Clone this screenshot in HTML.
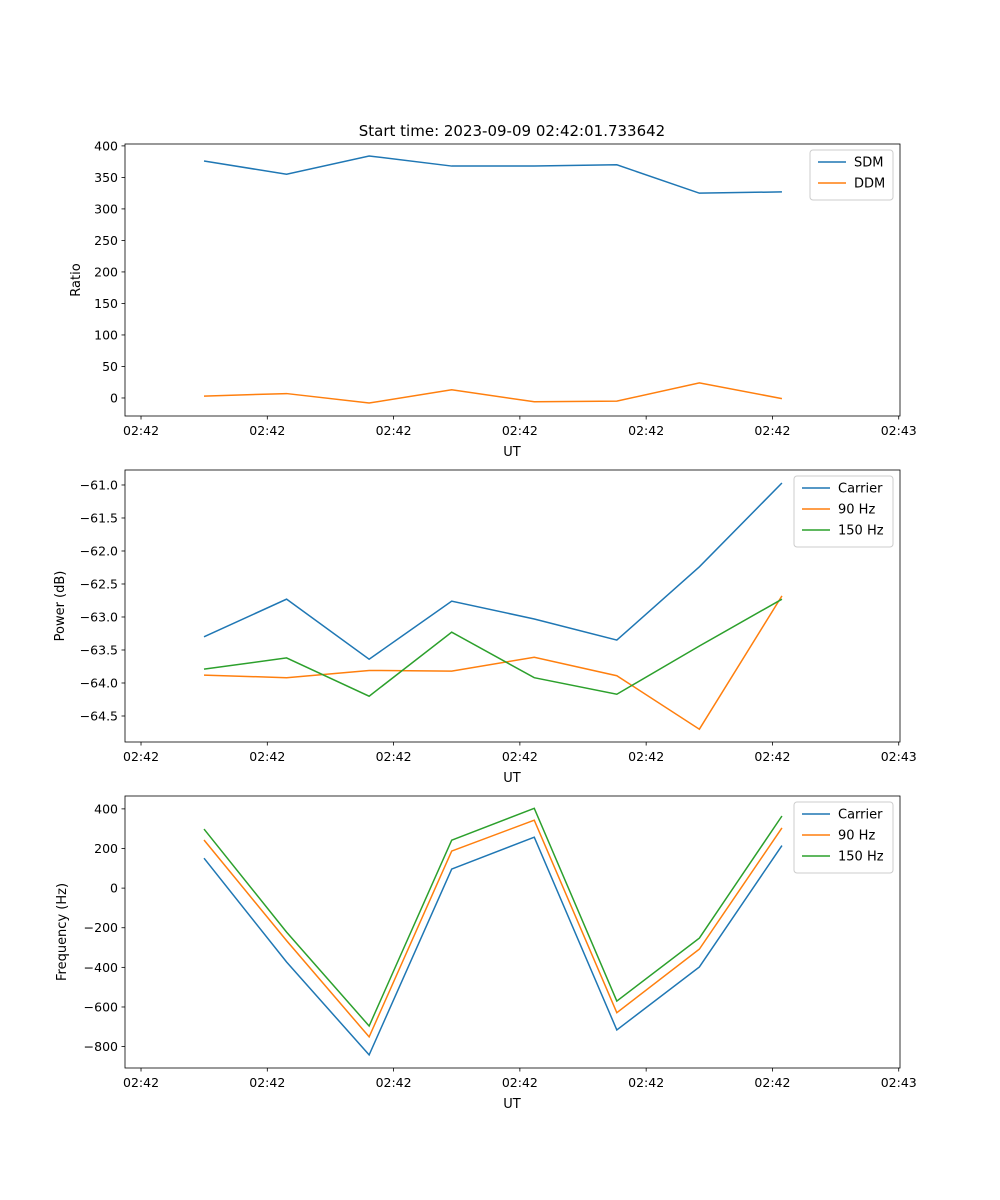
<!DOCTYPE html>
<html><head><meta charset="utf-8"><style>
body{margin:0;background:#fff}
svg{display:block;font-family:"DejaVu Sans","Liberation Sans",sans-serif}
</style></head><body>
<svg id="fig" width="1000" height="1200"></svg>
<script>
const timeIdx=[0,1,2,3,4,5,6,7];
const xTickLabels=["02:42","02:42","02:42","02:42","02:42","02:42","02:43"];
const sdm=[376,355,384,368,368,370,325,327];
const ddm=[3,7,-8,13,-6,-5,24,-1];
const pCarrier=[-63.30,-62.73,-63.64,-62.76,-63.03,-63.35,-62.24,-60.97];
const p90=[-63.88,-63.92,-63.81,-63.82,-63.61,-63.89,-64.70,-62.68];
const p150=[-63.79,-63.62,-64.20,-63.23,-63.92,-64.17,-63.44,-62.73];
const fCarrier=[151,-373,-842,96,257,-716,-398,215];
const f90=[243,-265,-751,187,343,-629,-308,304];
const f150=[298,-222,-696,242,403,-570,-252,364];
const ticks1=[0,50,100,150,200,250,300,350,400];
const ticks2=[-64.5,-64.0,-63.5,-63.0,-62.5,-62.0,-61.5,-61.0];
const ticks3=[-800,-600,-400,-200,0,200,400];
const C=["#1f77b4","#ff7f0e","#2ca02c"];
const NS="http://www.w3.org/2000/svg";
const svg=document.getElementById('fig');
function mk(t,a,p){const e=document.createElementNS(NS,t);for(const k in a)e.setAttribute(k,a[k]);(p||svg).appendChild(e);return e;}
const X0=125,X1=900,xmin=-0.957,xmax=8.43;
const xs=v=>X0+(v-xmin)/(xmax-xmin)*(X1-X0);
const xTickPos=xTickLabels.map((_,k)=>-0.763+k*1.5296);
function panel(name,top,ymin,ymax,yticks,fmt,ylabel,series,names,legendW){
  const bot=top+272;
  const ys=v=>bot-(v-ymin)/(ymax-ymin)*272;
  const g=mk('g',{});
  
  
  series.forEach((s,i)=>{
    const pl=mk('polyline',{points:s.map((v,j)=>xs(timeIdx[j])+','+ys(v)).join(' '),fill:'none',stroke:C[i],'stroke-width':1.5},g);
    
    
  });
  mk('rect',{x:X0,y:top,width:X1-X0,height:272,fill:'none',stroke:'#000','stroke-width':0.8},g);
  yticks.forEach(v=>{const y=ys(v);
    mk('line',{x1:X0-3.5,x2:X0,y1:y,y2:y,stroke:'#000','stroke-width':0.8},g);
    const t=mk('text',{x:X0-7,y:y+4.5,'text-anchor':'end','font-size':12.5},g);t.textContent=fmt(v);});
  xTickPos.forEach((v,k)=>{const x=xs(v);
    mk('line',{x1:x,x2:x,y1:bot,y2:bot+3.5,stroke:'#000','stroke-width':0.8},g);
    const t=mk('text',{x:x,y:bot+19,'text-anchor':'middle','font-size':12.5},g);t.textContent=xTickLabels[k];});
  const xl=mk('text',{x:512,y:bot+40,'text-anchor':'middle','font-size':13},g);xl.textContent='UT';
  
  const cy=top+136;
  const yl=mk('text',{x:0,y:0,transform:`translate(${ylabel[1]},${cy}) rotate(-90)`,'text-anchor':'middle','font-size':13},g);yl.textContent=ylabel[0];
  
  const lg=mk('g',{},g);
  
  const lx=X0+775-7-legendW;
  mk('rect',{x:lx,y:top+6,width:legendW,height:8+names.length*21,rx:3,fill:'#fff',stroke:'#ccc','stroke-width':1},lg);
  names.forEach((n,i)=>{const y=top+18+i*21;
    mk('line',{x1:lx+8,x2:lx+36,y1:y,y2:y,stroke:C[i],'stroke-width':1.5},lg);
    const t=mk('text',{x:lx+44,y:y+4.5,'font-size':13},lg);t.textContent=n;
    });
}
const title=mk('text',{x:512,y:136,'text-anchor':'middle','font-size':15});
title.textContent='Start time: 2023-09-09 02:42:01.733642';

panel('ratio-panel',144,-28.6,403,ticks1,v=>String(v),['Ratio',80],[sdm,ddm],['SDM','DDM'],83);
panel('power-panel',470,-64.894,-60.773,ticks2,v=>'\u2212'+Math.abs(v).toFixed(1),['Power (dB)',64],[pCarrier,p90,p150],['Carrier','90 Hz','150 Hz'],99);
panel('frequency-panel',796,-908,465,ticks3,v=>(v<0?'\u2212':'')+Math.abs(v),['Frequency (Hz)',66],[fCarrier,f90,f150],['Carrier','90 Hz','150 Hz'],99);
</script>
</body></html>
